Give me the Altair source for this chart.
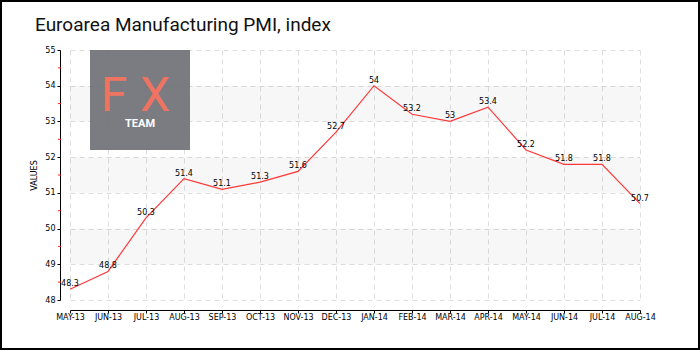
import altair as alt
import pandas as pd

months = ["MAY-13", "JUN-13", "JUL-13", "AUG-13", "SEP-13", "OCT-13", "NOV-13", "DEC-13",
          "JAN-14", "FEB-14", "MAR-14", "APR-14", "MAY-14", "JUN-14", "JUL-14", "AUG-14"]
values = [48.3, 48.8, 50.3, 51.4, 51.1, 51.3, 51.6, 52.7,
          54.0, 53.2, 53.0, 53.4, 52.2, 51.8, 51.8, 50.7]
labels = ["48.3", "48.8", "50.3", "51.4", "51.1", "51.3", "51.6", "52.7",
          "54", "53.2", "53", "53.4", "52.2", "51.8", "51.8", "50.7"]
band_lo = [49, 51, 53]
band_hi = [50, 52, 54]
minor_ticks = [48.5, 49.5, 50.5, 51.5, 52.5, 53.5, 54.5]
y_ticks = [48, 49, 50, 51, 52, 53, 54, 55]

TITLE = "Euroarea Manufacturing PMI, index"
SMALL_FONT = "DejaVu Sans"

df = pd.DataFrame({"month": months, "value": values, "label": labels})
bands = pd.DataFrame({"lo": band_lo, "hi": band_hi})
minors = pd.DataFrame({"v": minor_ticks})

yscale = alt.Scale(domain=[48, 55], nice=False, zero=False)
xscale = alt.Scale(type="point", padding=0)

x_axis = alt.Axis(title=None, labelAngle=0, offset=10, grid=True,
                  gridDash=[5, 4], gridColor="#dedede", gridWidth=1,
                  domainColor="#000000", tickColor="#000000", tickSize=3,
                  labelFont=SMALL_FONT, labelFontSize=8, labelPadding=0,
                  labelColor="#000000")
y_axis = alt.Axis(values=y_ticks, title="VALUES", titleFont=SMALL_FONT,
                  titleFontSize=8, titleFontWeight="normal", titleColor="#000000",
                  titlePadding=6, offset=10, grid=True, gridDash=[5, 4],
                  gridColor="#dedede", gridWidth=1, domainColor="#000000",
                  tickColor="#000000", tickSize=3, labelFont=SMALL_FONT,
                  labelFontSize=8, labelPadding=2, labelColor="#000000")

x_enc = alt.X("month:O", sort=months, scale=xscale, axis=x_axis)
y_enc = alt.Y("value:Q", scale=yscale, axis=y_axis)

band_layer = alt.Chart(bands).mark_rect(fill="#000000", fillOpacity=0.03).encode(
    y=alt.Y("lo:Q", scale=yscale, axis=y_axis), y2="hi:Q",
    x=alt.value(0), x2=alt.value(570),
)

logo_rect = alt.Chart(alt.Data(values=[{}])).mark_rect(
    fill="#717179", opacity=0.93
).encode(x=alt.value(20), x2=alt.value(120), y=alt.value(0), y2=alt.value(100))

logo_f = alt.Chart(alt.Data(values=[{}])).mark_text(
    font="Roboto", fontSize=48, color="#ef7361", align="center", baseline="alphabetic"
).encode(x=alt.value(44), y=alt.value(61), text=alt.value("F"))

logo_x = alt.Chart(alt.Data(values=[{}])).mark_text(
    font="Roboto", fontSize=48, color="#ef7361", align="center", baseline="alphabetic"
).encode(x=alt.value(85), y=alt.value(61), text=alt.value("X"))

logo_team = alt.Chart(alt.Data(values=[{}])).mark_text(
    font="Roboto", fontSize=11, fontWeight="bold", color="#ffffff",
    align="center", baseline="alphabetic"
).encode(x=alt.value(70), y=alt.value(77), text=alt.value("TEAM"))

line = alt.Chart(df).mark_line(color="#ff3838", strokeWidth=1.2).encode(x=x_enc, y=y_enc)

text = alt.Chart(df).mark_text(
    font=SMALL_FONT, fontSize=8, color="#000000", align="center",
    baseline="alphabetic", dy=-3
).encode(x=x_enc, y=y_enc, text="label:N")

minor_layer = alt.Chart(minors).mark_rule(color="#ff2020", strokeWidth=1).encode(
    y=alt.Y("v:Q", scale=yscale, axis=y_axis), x=alt.value(-12), x2=alt.value(-9)
)

title = alt.Chart(alt.Data(values=[{}])).mark_text(
    font="Roboto", fontSize=19, color="#111111",
    align="left", baseline="alphabetic"
).encode(x=alt.value(-35), y=alt.value(-19), text=alt.value(TITLE))

border = alt.Chart(alt.Data(values=[{}])).mark_rect(
    fillOpacity=0, stroke="#000000", strokeWidth=2
).encode(x=alt.value(-69), x2=alt.value(629), y=alt.value(-49), y2=alt.value(299))

chart = alt.layer(
    band_layer, logo_rect, logo_f, logo_x, logo_team, line, text, minor_layer, title, border
).properties(
    width=570, height=250,
    autosize=alt.AutoSizeParams(type="none"),
    padding={"left": 70, "top": 50, "right": 60, "bottom": 50},
    background="#ffffff",
).configure_view(stroke=None)

chart.save("out.html", embed_options={"renderer": "svg", "actions": False})
